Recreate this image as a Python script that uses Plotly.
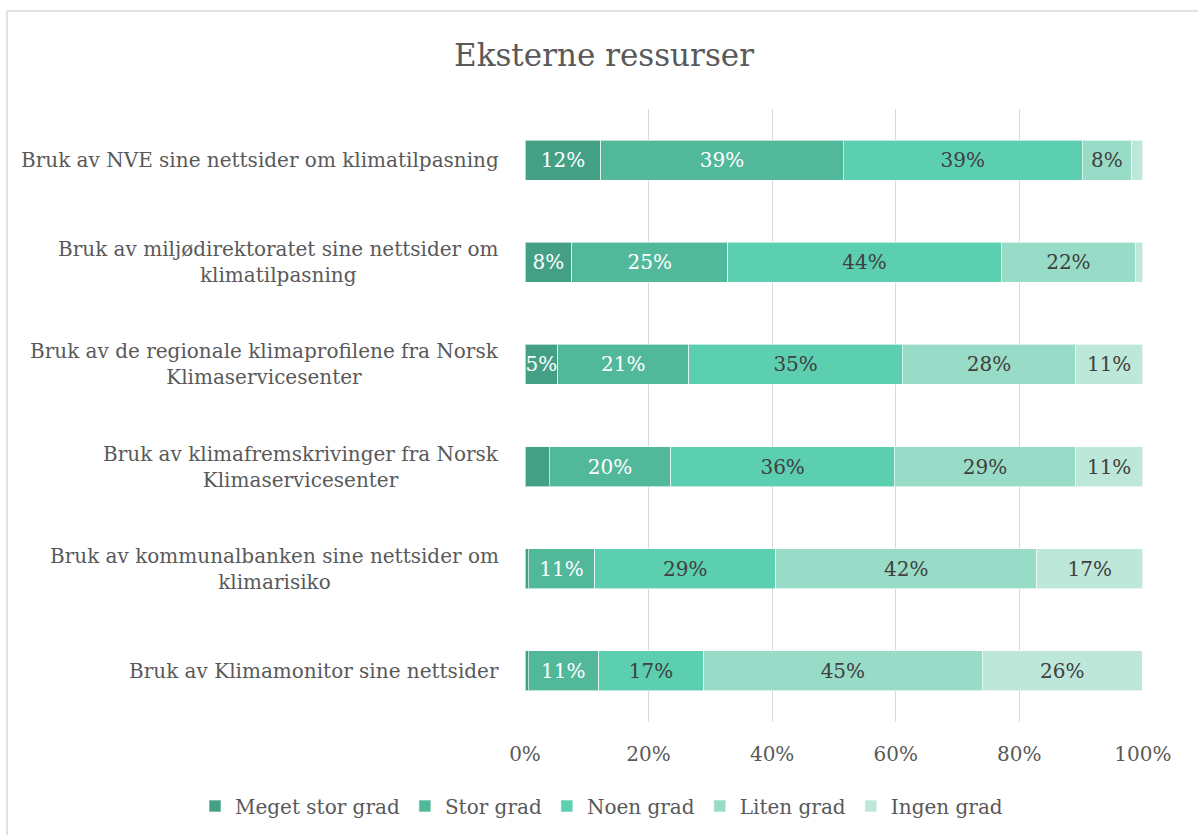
import plotly.graph_objects as go

categories = [
    "Bruk av NVE sine nettsider om klimatilpasning",
    "Bruk av miljødirektoratet sine nettsider om<br>klimatilpasning",
    "Bruk av de regionale klimaprofilene fra Norsk<br>Klimaservicesenter",
    "Bruk av klimafremskrivinger fra Norsk<br>Klimaservicesenter",
    "Bruk av kommunalbanken sine nettsider om<br>klimarisiko",
    "Bruk av Klimamonitor sine nettsider",
]
series_names = ["Meget stor grad", "Stor grad", "Noen grad", "Liten grad", "Ingen grad"]
meget_stor = [12.3, 7.6, 5.3, 3.9, 0.5, 0.5]
stor = [39.2, 25.2, 21.2, 19.7, 10.8, 11.4]
noen = [38.7, 44.3, 34.6, 36.2, 29.3, 17.0]
liten = [8.0, 21.7, 28.0, 29.3, 42.2, 45.1]
ingen = [1.8, 1.2, 10.9, 10.9, 17.2, 25.9]
series_values = [meget_stor, stor, noen, liten, ingen]
colors = ["#44A085", "#52B89A", "#5BCFB0", "#98DCC7", "#BDE7D9"]
text_colors = ["#FFFFFF", "#FFFFFF", "#404040", "#404040", "#404040"]
x_ticks = [0, 20, 40, 60, 80, 100]
x_tick_labels = ["0%", "20%", "40%", "60%", "80%", "100%"]
title = "Eksterne ressurser"

FONT = "DejaVu Serif"
GREY = "#595959"

fig = go.Figure()
for name, vals, col, tcol in zip(series_names, series_values, colors, text_colors):
    fig.add_trace(go.Bar(
        y=categories, x=vals, name=name, orientation="h",
        marker=dict(color=col, line=dict(color="rgba(255,255,255,0.6)", width=1)),
        text=[f"{v:.0f}%" if v >= 5 else "" for v in vals],
        textposition="inside", insidetextanchor="middle",
        textfont=dict(family=FONT, size=20, color=tcol),
        textangle=0, cliponaxis=False, hoverinfo="skip",
    ))

for c in categories:
    fig.add_annotation(x=0, y=c, xref="paper", yref="y", text=c, showarrow=False,
                       xanchor="right", yanchor="middle", align="center", xshift=-24,
                       font=dict(family=FONT, size=20, color=GREY))

# outer chart frame (top and left edges visible)
L, R, T, B = 525, 1143, 109, 722
def px(xp): return (xp - L) / (R - L)
def py(yp): return (B - yp) / (B - T)
fig.add_shape(type="line", xref="paper", yref="paper", x0=px(7), x1=px(1198), y0=py(11), y1=py(11),
              line=dict(color="#D9D9D9", width=1.5))
fig.add_shape(type="line", xref="paper", yref="paper", x0=px(7), x1=px(7), y0=py(11), y1=py(835),
              line=dict(color="#D9D9D9", width=1.5))

fig.update_layout(
    barmode="stack", bargap=0.61,
    width=1198, height=835,
    margin=dict(l=L, r=1198 - R, t=T, b=835 - B, autoexpand=False),
    paper_bgcolor="white", plot_bgcolor="white",
    uniformtext=dict(minsize=20, mode="show"),
    title=dict(text=title, x=604 / 1198, xanchor="center", y=1 - 55 / 835, yanchor="middle",
               xref="container", yref="container",
               font=dict(family=FONT, size=31, color=GREY)),
    legend=dict(orientation="h", xref="paper", yref="paper",
                x=px(195), xanchor="left", y=py(806), yanchor="middle",
                font=dict(family=FONT, size=20, color=GREY), traceorder="normal",
                itemwidth=30, tracegroupgap=0),
    showlegend=True,
)
fig.update_xaxes(range=[0, 100.03], tickvals=x_ticks, ticktext=x_tick_labels, showgrid=True,
                 gridcolor="#D9D9D9", gridwidth=1, zeroline=False, showline=False,
                 tickfont=dict(family=FONT, size=20, color=GREY), ticks="", ticklabelstandoff=18)
fig.update_yaxes(autorange="reversed", showticklabels=False, showgrid=False, zeroline=False,
                 showline=False, ticks="")

fig.write_html("out.html", config={"displayModeBar": False},
               post_script="document.body.style.margin='0';document.body.style.overflow='hidden';")
